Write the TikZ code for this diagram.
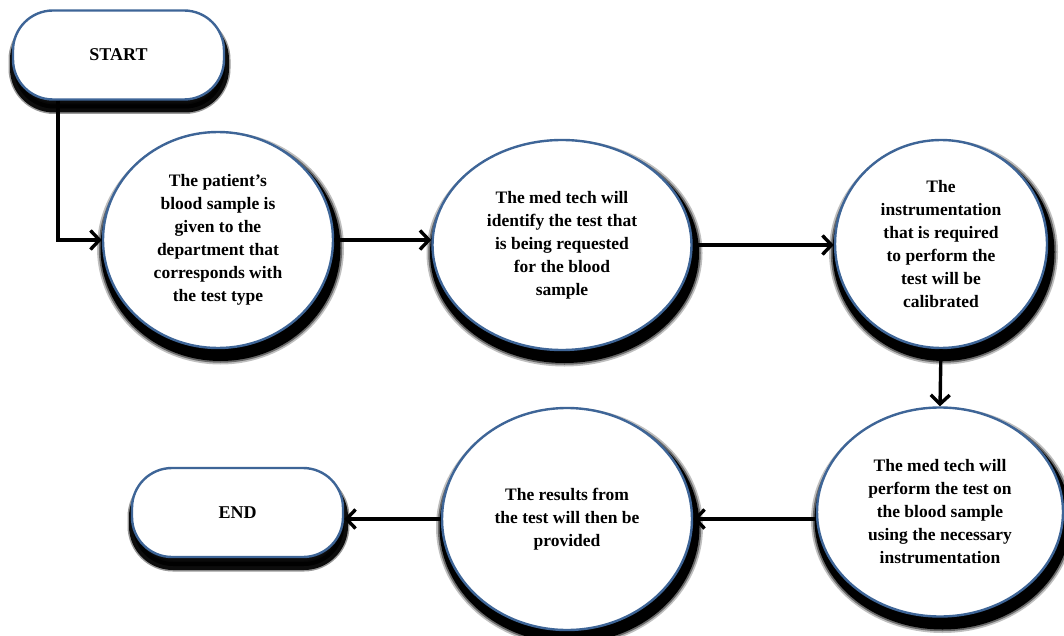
\documentclass[tikz,border=0pt]{standalone}
\usepackage{fontspec}
\setmainfont{Liberation Serif}
\usetikzlibrary{arrows.meta,shapes.geometric}
\definecolor{bord}{HTML}{3E6597}
\tikzset{
  esh/.style 2 args={preaction={fill=black, draw=black, line width=#1, opacity=#2,
      transform canvas={xshift=2.5pt, yshift=-8pt}}},
  proc/.style={ellipse, draw=bord, line width=2.4pt, fill=white, inner sep=0pt,
    align=center, font=\bfseries\fontsize{17.5}{23}\selectfont,
    esh={17pt}{0.25}, esh={13.5pt}{0.45}, esh={10pt}{1}},
  tsh/.style 2 args={preaction={fill=black, draw=black, line width=#1, opacity=#2,
      transform canvas={xshift=1pt, yshift=-9pt}}},
  term/.style={rectangle, rounded corners=40pt, draw=bord, line width=2.4pt, fill=white,
    minimum width=211pt, minimum height=89pt, inner sep=0pt,
    font=\bfseries\fontsize{18}{20}\selectfont,
    tsh={11pt}{0.4}, tsh={8pt}{0.92}},
  arr/.style={line width=3.4pt, -{Straight Barb[length=9pt, width=19pt, line width=3.4pt]}}
}
\begin{document}
\begin{tikzpicture}[x=1pt,y=-1pt]
\useasboundingbox (0,0) rectangle (1064,636);
\node[term] (start) at (118.5,55) {START};
\node[term] (end) at (237.5,512.5) {END};
\node[proc, minimum width=230pt, minimum height=216pt] (e1) at (218,240)
  {The patient’s\\blood sample is\\given to the\\department that\\corresponds with\\the test type};
\node[proc, minimum width=259pt, minimum height=210pt] (e2) at (562,245)
  {The med tech will\\identify the test that\\is being requested\\for the blood\\sample};
\node[proc, minimum width=212pt, minimum height=208pt] (e3) at (941,244)
  {The\\instrumentation\\that is required\\to perform the\\test will be\\calibrated};
\node[proc, minimum width=246pt, minimum height=209pt] (e4) at (940,512)
  {The med tech will\\perform the test on\\the blood sample\\using the necessary\\instrumentation};
\node[proc, minimum width=250pt, minimum height=222pt] (e5) at (567,519)
  {The results from\\the test will then be\\provided};
\coordinate (s0) at ([xshift=-60.5pt]start.south);
\draw[arr] (s0) |- (e1.west);
\draw[arr] (e1.east) -- (e1.east -| e2.west);
\draw[arr] (e2.east) -- (e2.east -| e3.west);
\draw[arr] (e3.south) -- (e4.north);
\draw[arr] (e4.west |- e5.east) -- (e5.east);
\draw[arr] (e5.west) -- (e5.west -| end.east);
\end{tikzpicture}
\end{document}
